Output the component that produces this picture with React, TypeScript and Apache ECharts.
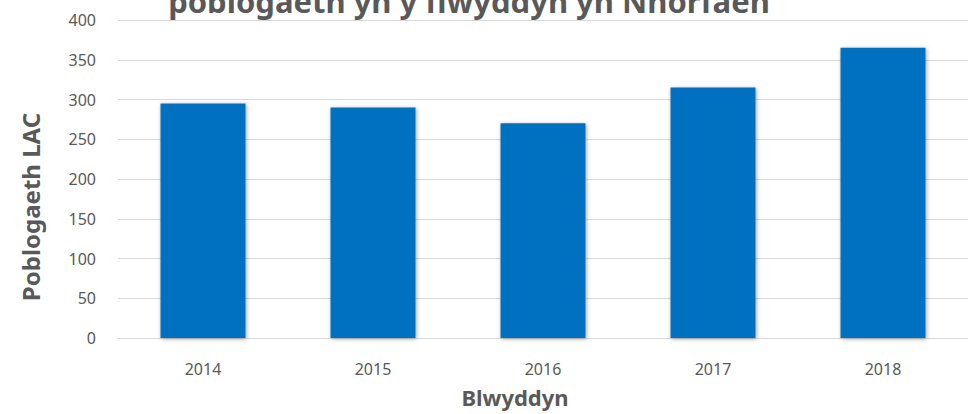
import React, { useEffect, useRef } from "react";
import * as echarts from "echarts";

const categories = ["2014", "2015", "2016", "2017", "2018"];
const values = [295, 290, 270, 315, 365];
const titleText = "poblogaeth yn y flwyddyn yn Nhorfaen";
const yAxisName = "Poblogaeth LAC";
const xAxisName = "Blwyddyn";

export default function App() {
  const ref = useRef<HTMLDivElement>(null);
  useEffect(() => {
    if (!ref.current) return;
    const chart = echarts.init(ref.current, null, { renderer: "svg" });
    const font = "'Noto Sans', 'Open Sans', sans-serif";
    chart.setOption({
      animation: false,
      textStyle: { fontFamily: font },
      grid: { left: 118, right: 0, top: 20, bottom: 76, containLabel: false },
      xAxis: {
        type: "category",
        data: categories,
        axisLine: { lineStyle: { color: "#d9d9d9", width: 1 } },
        axisTick: { show: false },
        axisLabel: { color: "#595959", fontSize: 16, lineHeight: 16, margin: 23, fontFamily: font },
      },
      yAxis: {
        type: "value",
        min: 0,
        max: 400,
        interval: 50,
        axisLine: { show: false },
        axisTick: { show: false },
        splitLine: { lineStyle: { color: "#d9d9d9", width: 1 } },
        axisLabel: { color: "#595959", fontSize: 16, margin: 22, fontFamily: font },
      },
      series: [
        {
          type: "bar",
          data: values,
          barWidth: "50%",
          itemStyle: {
            color: "#0070C0",
            shadowBlur: 4,
            shadowColor: "rgba(0,0,0,0.35)",
            shadowOffsetX: 1,
            shadowOffsetY: 1,
          },
        },
      ],
      graphic: [
        {
          type: "text",
          x: 469,
          y: 16,
          style: {
            text: titleText,
            fontSize: 31,
            fontWeight: "bold",
            fill: "#595959",
            align: "center",
            verticalAlign: "bottom",
            fontFamily: font,
          },
        },
        {
          type: "text",
          x: 30,
          y: 207,
          rotation: Math.PI / 2,
          style: {
            text: yAxisName,
            fontSize: 24,
            fontWeight: "bold",
            fill: "#595959",
            align: "center",
            verticalAlign: "middle",
            fontFamily: font,
          },
        },
        {
          type: "text",
          x: 515,
          y: 397,
          style: {
            text: xAxisName,
            fontSize: 22,
            lineHeight: 22,
            fontWeight: "bold",
            fill: "#595959",
            align: "center",
            verticalAlign: "middle",
            fontFamily: font,
          },
        },
      ],
    });
    return () => chart.dispose();
  }, []);
  return (
    <div
      ref={ref}
      style={{ position: "absolute", left: 0, top: 0, width: 968, height: 414, background: "#fff" }}
    />
  );
}
